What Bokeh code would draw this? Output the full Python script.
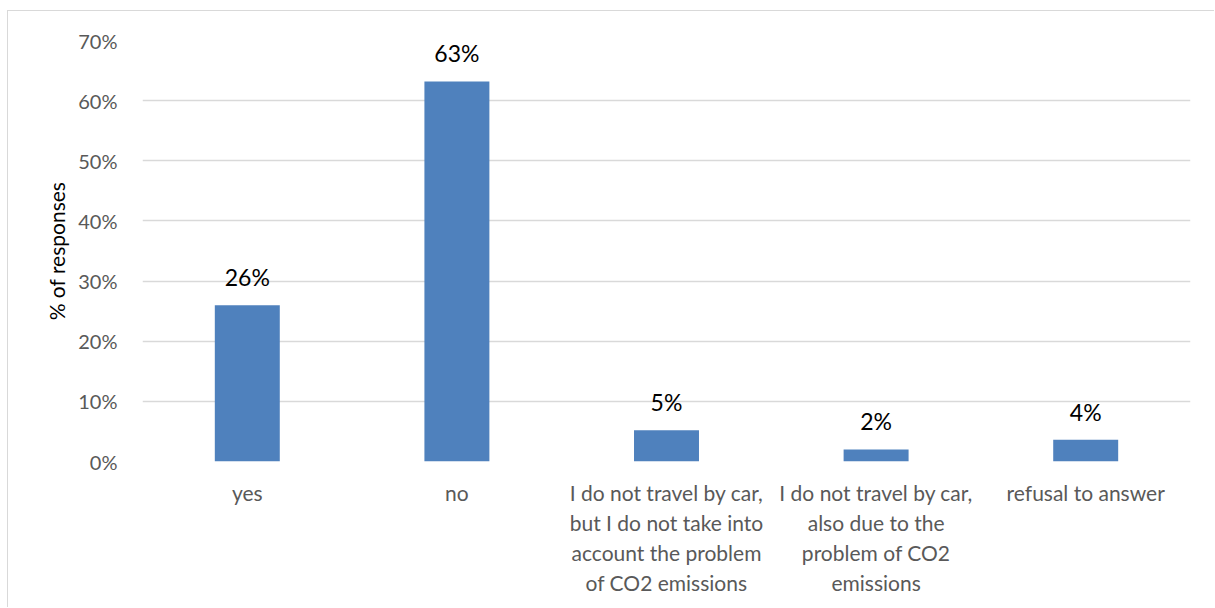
from bokeh.plotting import figure
from bokeh.models import ColumnDataSource, LabelSet, NumeralTickFormatter, FactorRange, FixedTicker
from bokeh.core.properties import value
from bokeh.embed import file_html
from bokeh.resources import INLINE

categories = [
    "yes",
    "no",
    "I do not travel by car,\nbut I do not take into\naccount the problem\nof CO2 emissions",
    "I do not travel by car,\nalso due to the\nproblem of CO2\nemissions",
    "refusal to answer",
]
values = [0.26, 0.632, 0.052, 0.020, 0.036]
labels = ["26%", "63%", "5%", "2%", "4%"]
y_ticks = [0, 0.1, 0.2, 0.3, 0.4, 0.5, 0.6, 0.7]

FONT = "Lato"
OX, OY = 8, 11          # page position of the figure's content (after margin + border)
W, H = 1207, 597

src = ColumnDataSource(dict(cat=categories, val=values, lab=labels))

p = figure(
    x_range=FactorRange(*categories, range_padding=0),
    y_range=(0, 0.7),
    width=W, height=H,
    output_backend="svg", toolbar_location=None,
    min_border_left=142 - OX, min_border_top=40 - OY,
    min_border_right=OX + W - 1190, min_border_bottom=OY + H - 461,
)
p.styles = {"border-left": "1px solid #d9d9d9", "border-top": "1px solid #d9d9d9",
            "margin-left": "7px", "margin-top": "10px"}
p.outline_line_color = None
p.background_fill_color = "white"
p.border_fill_color = "white"

p.vbar(x="cat", top="val", width=0.31, source=src, color="#4F81BD", line_color=None)

labs = LabelSet(x="cat", y="val", text="lab", source=src, text_align="center",
                text_baseline="alphabetic", y_offset=19, text_font=value(FONT),
                text_font_size="23px", text_color="#000000")
p.add_layout(labs)

p.xgrid.grid_line_color = None
p.ygrid.grid_line_color = "#d9d9d9"
p.ygrid.grid_line_width = 1.3
p.ygrid.ticker = FixedTicker(ticks=y_ticks)

p.yaxis.ticker = FixedTicker(ticks=y_ticks)
p.yaxis.formatter = NumeralTickFormatter(format="0%")
p.yaxis.axis_line_color = None
p.yaxis.major_tick_line_color = None
p.yaxis.minor_tick_line_color = None
p.yaxis.major_label_text_font = FONT
p.yaxis.major_label_text_font_size = "20px"
p.yaxis.major_label_text_color = "#595959"
p.yaxis.major_label_standoff = 19
p.yaxis.axis_label = "% of responses"
p.yaxis.axis_label_text_font = FONT
p.yaxis.axis_label_text_font_size = "21px"
p.yaxis.axis_label_text_font_style = "normal"
p.yaxis.axis_label_text_color = "#000000"
p.yaxis.axis_label_standoff = 6

p.xaxis.axis_line_color = None
p.xaxis.major_tick_line_color = None
p.xaxis.minor_tick_line_color = None
p.xaxis.major_label_text_font = FONT
p.xaxis.major_label_text_font_size = "21px"
p.xaxis.major_label_text_color = "#595959"
p.xaxis.major_label_standoff = 12

open("out.html", "w").write(file_html(p, INLINE))
